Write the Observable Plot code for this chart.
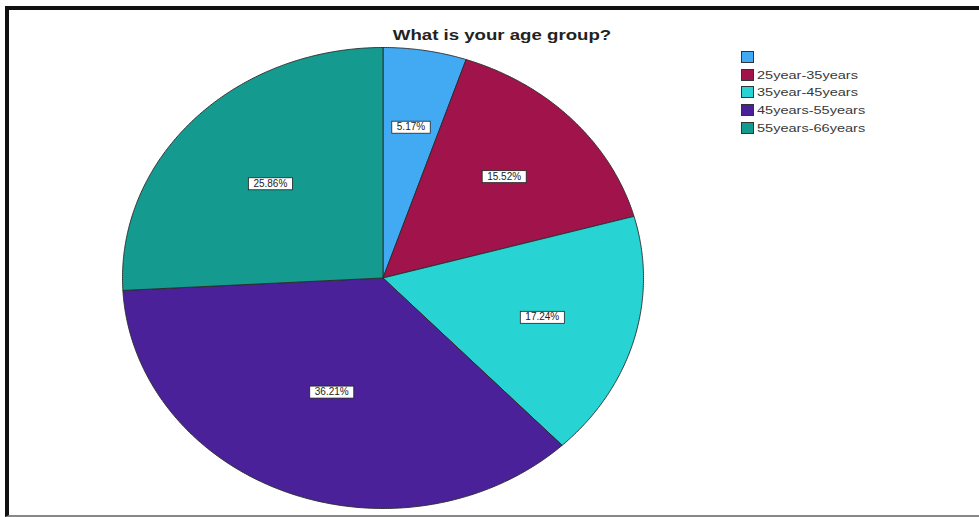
<!DOCTYPE html>
<html>
<head>
<meta charset="utf-8">
<script src="https://cdn.jsdelivr.net/npm/d3@7"></script>
<script src="https://cdn.jsdelivr.net/npm/@observablehq/plot@0.6"></script>
<style>
  html, body { margin: 0; padding: 0; background: #fff; }
  #wrap { position: relative; width: 979px; height: 517px; overflow: hidden; background: #fff; font-family: "Liberation Sans", Arial, sans-serif; }
  #frame { position: absolute; left: 5px; top: 6px; width: 990px; height: 505px; border-top: 4px solid #111; border-left: 4px solid #111; border-bottom: 2px solid #888; }
  #title { position: absolute; left: 502px; top: 27px; white-space: nowrap; font-weight: bold; font-size: 14px; color: #222; transform: translateX(-50%) scaleX(1.33); }
  #chart { position: absolute; left: 0; top: 0; }
  #legend { position: absolute; left: 741px; top: 48px; font-size: 11px; color: #3a3a3a; }
  .row { display: flex; align-items: center; height: 17.7px; }
  .sw { width: 13px; height: 12px; box-sizing: border-box; border: 1px solid #333; margin-right: 3px; flex: none; }
  .lab { display: inline-block; transform: scaleX(1.32); transform-origin: left center; white-space: nowrap; }
</style>
</head>
<body>
<div id="wrap">
  <div id="frame"></div>
  <div id="chart"></div>
  <div id="title">What is your age group?</div>
  <div id="legend"></div>
</div>
<script>
const categories = ["", "25year-35years", "35year-45years", "45years-55years", "55years-66years"];
const percents = [5.17, 15.52, 17.24, 36.21, 25.86];
const colors = ["#42aaf3", "#a1144b", "#27d3d3", "#4a2198", "#149a8f"];

// build slice outlines (angle measured clockwise from 12 o'clock)
const total = d3.sum(percents);
const points = [];
const labels = [];
let acc = 0;
percents.forEach((p, i) => {
  const a0 = acc / total * 2 * Math.PI;
  acc += p;
  const a1 = acc / total * 2 * Math.PI;
  const n = Math.max(2, Math.ceil((a1 - a0) / (Math.PI / 360)));
  points.push({key: categories[i], idx: i, x: 0, y: 0});
  for (let k = 0; k <= n; k++) {
    const t = a0 + (a1 - a0) * k / n;
    points.push({key: categories[i], idx: i, x: Math.sin(t), y: Math.cos(t)});
  }
  points.push({key: categories[i], idx: i, x: 0, y: 0});
  const half = (a1 - a0) / 2;
  const mid = a0 + half;
  const rc = (2 / 3) * Math.sin(half) / half; // sector centroid distance
  labels.push({x: rc * Math.sin(mid), y: rc * Math.cos(mid), text: p.toFixed(2) + "%"});
});

const chart = Plot.plot({
  width: 979,
  height: 517,
  margin: 0,
  x: {domain: [-1, 1], range: [122, 643], axis: null},
  y: {domain: [-1, 1], range: [508, 47], axis: null},
  color: {domain: categories.map((c, i) => i), range: colors},
  marks: [
    Plot.line(points, {x: "x", y: "y", z: "idx", fill: "idx", stroke: "#2a2a2a", strokeWidth: 0.9, curve: "linear"}),
    Plot.text(labels, {x: "x", y: "y", text: "text", fill: "#222", fontSize: 10, fontFamily: "Liberation Sans, Arial, sans-serif", className: "plabels"})
  ]
});
document.getElementById("chart").appendChild(chart);

// white boxes behind slice labels
document.querySelectorAll("g.plabels text").forEach(t => {
  const b = t.getBBox();
  const r = document.createElementNS("http://www.w3.org/2000/svg", "rect");
  r.setAttribute("x", b.x - 5);
  r.setAttribute("y", b.y);
  r.setAttribute("width", b.width + 10);
  r.setAttribute("height", b.height + 1);
  r.setAttribute("fill", "#fff");
  r.setAttribute("stroke", "#222");
  r.setAttribute("stroke-width", "0.8");
  const tr = t.getAttribute("transform");
  if (tr) r.setAttribute("transform", tr);
  t.parentNode.insertBefore(r, t);
});

// legend
const leg = document.getElementById("legend");
categories.forEach((c, i) => {
  const row = document.createElement("div");
  row.className = "row";
  const sw = document.createElement("div");
  sw.className = "sw";
  sw.style.background = colors[i];
  const lab = document.createElement("span");
  lab.className = "lab";
  lab.textContent = c;
  row.appendChild(sw);
  row.appendChild(lab);
  leg.appendChild(row);
});
</script>
</body>
</html>
